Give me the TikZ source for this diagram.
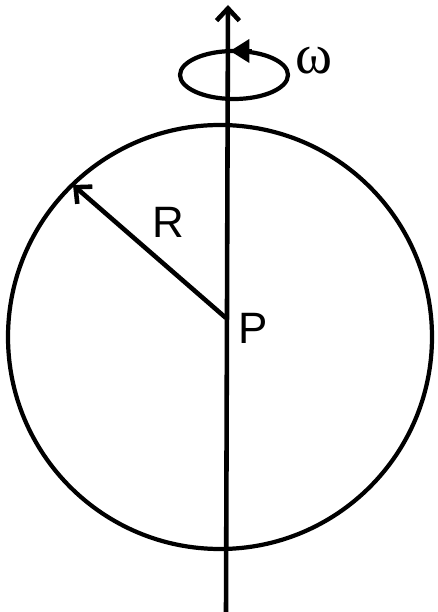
\documentclass[tikz,border=0pt]{standalone}
\usepackage{fontspec}
\setmainfont{Liberation Sans}
\newfontfamily\omegafont{Liberation Serif}
\usetikzlibrary{arrows.meta}

\begin{document}
\begin{tikzpicture}[x=0.02cm,y=0.02cm,line width=2.6pt,>={Straight Barb[length=7pt,width=13pt]},
  lbl/.style={font=\fontsize{25}{25}\selectfont}]
\useasboundingbox (0,0) rectangle (438,612);
\coordinate (O) at (220,275);
\coordinate (bot) at (226,0);
\coordinate (top) at (228,607);
\coordinate (P) at (226,294);
\coordinate (rim) at (73,427);
\coordinate (W) at (234,537);
% sphere
\draw[line width=2.4pt] (O) circle[radius=212];
% spin loop
\draw[line width=2.4pt] (W) ellipse[x radius=54,y radius=24];
\draw[line width=2.4pt,-{Triangle[length=11pt,width=13pt]}] (252,561) -- (230,561);
% axis
\draw[->] (bot) -- (top);
% radius
\draw[->] (P) -- (rim);
\node[lbl] (Rlbl) at (168,390) {R};
\node[lbl] (Plbl) at (253,284) {P};
\node[font=\omegafont\fontsize{32}{32}\selectfont] (wlbl) at (314,551) {ω};
\end{tikzpicture}
\end{document}
